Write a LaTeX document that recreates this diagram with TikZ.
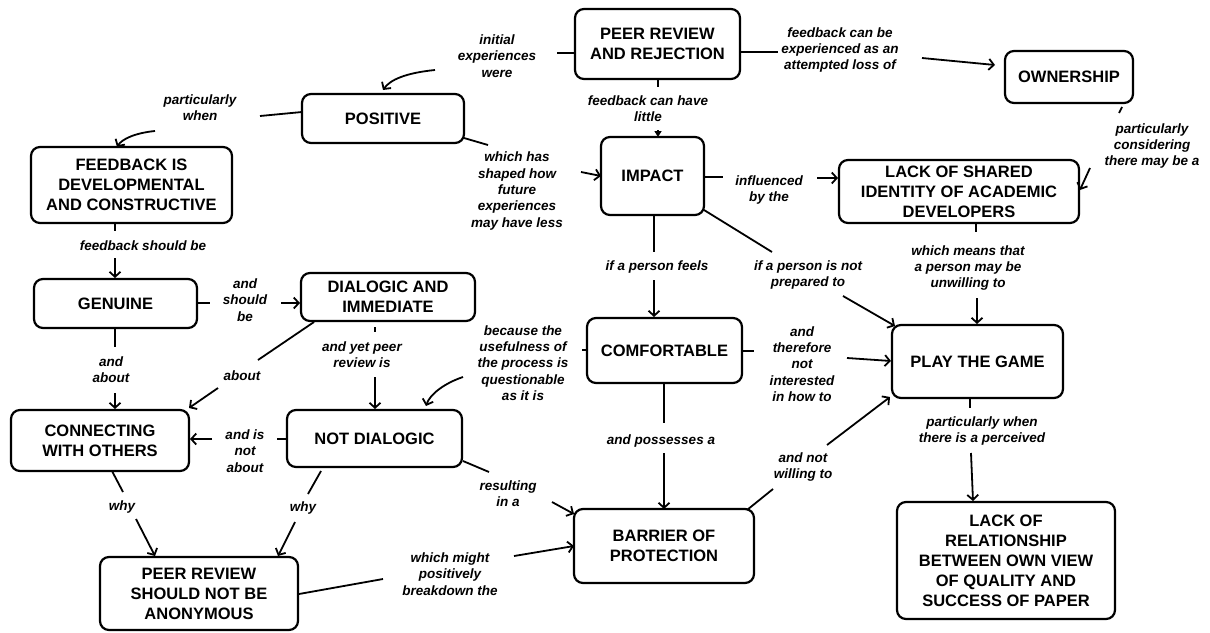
\documentclass[tikz,border=0pt]{standalone}
\usepackage{fontspec}
\setmainfont{Liberation Sans}
\usetikzlibrary{arrows.meta,calc}
\tikzset{
 concept/.style={draw, line width=2.2pt, rounded corners=9pt, align=center, inner sep=2pt,
   font=\bfseries\fontsize{16.5}{20}\selectfont},
 linkph/.style={align=center, inner sep=0pt, font=\bfseries\itshape\fontsize{13.5}{16.3}\selectfont},
 conn/.style={line width=1.8pt},
 arr/.style={conn, -{Straight Barb[length=5pt,width=11pt]}},
 tri/.style={conn, -{Triangle[length=6pt,width=7pt]}},
}
\begin{document}
\begin{tikzpicture}[x=1pt,y=-1pt]
\useasboundingbox (0,0) rectangle (1210,632);
% concepts
\node[concept, minimum width=165, minimum height=70] (pr) at (657.5,44) {PEER REVIEW\\AND REJECTION};
\node[concept, minimum width=128, minimum height=52] (own) at (1069,77) {OWNERSHIP};
\node[concept, minimum width=162, minimum height=49] (pos) at (383,118.5) {POSITIVE};
\node[concept, minimum width=201, minimum height=76] (fdc) at (131.5,185) {FEEDBACK IS\\DEVELOPMENTAL\\AND CONSTRUCTIVE};
\node[concept, minimum width=103, minimum height=78] (imp) at (652.5,176) {IMPACT};
\node[concept, minimum width=240, minimum height=63] (lsi) at (959,191.5) {LACK OF SHARED\\IDENTITY OF ACADEMIC\\DEVELOPERS};
\node[concept, minimum width=163, minimum height=49] (gen) at (115.5,303.5) {GENUINE};
\node[concept, minimum width=174, minimum height=48] (dia) at (388,297) {DIALOGIC AND\\IMMEDIATE};
\node[concept, minimum width=155, minimum height=65] (com) at (664.5,350.5) {COMFORTABLE};
\node[concept, minimum width=171, minimum height=73] (ptg) at (977.5,361.5) {PLAY THE GAME};
\node[concept, minimum width=178, minimum height=61] (cwo) at (100,440.5) {CONNECTING\\WITH OTHERS};
\node[concept, minimum width=175, minimum height=57] (nd) at (374.5,438.5) {NOT DIALOGIC};
\node[concept, minimum width=198, minimum height=73] (anon) at (199,593.5) {PEER REVIEW\\SHOULD NOT BE\\ANONYMOUS};
\node[concept, minimum width=180, minimum height=74] (bar) at (664,546) {BARRIER OF\\PROTECTION};
\node[concept, minimum width=218, minimum height=117] (lor) at (1006,560.5) {LACK OF\\RELATIONSHIP\\BETWEEN OWN VIEW\\OF QUALITY AND\\SUCCESS OF PAPER};
% linking phrases
\node[linkph] (lInit) at (497,56) {initial\\experiences\\were};
\node[linkph] (lOwn) at (840,50) {feedback can be\\experienced as an\\attempted loss of};
\node[linkph] (lLittle) at (648,109) {feedback can have\\little};
\node[linkph] (lPw) at (200,108) {particularly\\when};
\node[linkph] (lShaped) at (517,191) {which has\\shaped how\\future\\experiences\\may have less};
\node[linkph] (lInfl) at (769,190) {influenced\\by the};
\node[linkph] (lConsid) at (1152,146) {particularly\\considering\\there may be a};
\node[linkph] (lFsb) at (143,246) {feedback should be};
\node[linkph] (lAsb) at (245,300) {and\\should\\be};
\node[linkph] (lYet) at (362,355) {and yet peer\\review is};
\node[linkph] (lAbout) at (242,376) {about};
\node[linkph] (lAndabout) at (111,370) {and\\about};
\node[linkph] (lBecause) at (523,363) {because the\\usefulness of\\the process is\\questionable\\as it is};
\node[linkph] (lFeels) at (657,267) {if a person feels};
\node[linkph] (lNotprep) at (808,275) {if a person is not\\prepared to};
\node[linkph] (lMeans) at (968,268) {which means that\\a person may be\\unwilling to};
\node[linkph] (lTherefore) at (802,364) {and\\therefore\\not\\interested\\in how to};
\node[linkph] (lNotwill) at (803,467) {and not\\willing to};
\node[linkph] (lPerceived) at (982,431) {particularly when\\there is a perceived};
\node[linkph] (lIsnot) at (245,451) {and is\\not\\about};
\node[linkph] (lWhy1) at (122,507) {why};
\node[linkph] (lWhy2) at (303,508) {why};
\node[linkph] (lResult) at (508,494) {resulting\\in a};
\node[linkph] (lBreak) at (450,574) {which might\\positively\\breakdown the};
\node[linkph] (lPoss) at (661,441) {and possesses a};
% connectors
\draw[conn] ($(pr)+(-82.5,9)$) -- ($(lInit)+(60,-3)$);
\draw[arr] ($(lInit)+(-62,14)$) .. controls (405,73) and (390,80) .. ($(pos)+(0,-28.5)$);
\draw[conn] ($(pr)+(82.5,8)$) -- ($(lOwn)+(-62,2)$);
\draw[arr] ($(lOwn)+(82,8)$) -- ($(own)+(-74,-12)$);
\draw[conn] ($(pr)+(0.5,35)$) -- ($(lLittle)+(10,-22)$);
\draw[tri] ($(lLittle)+(10,21)$) -- ($(imp)+(5.5,-39)$);
\draw[conn] ($(pos)+(-81,-6.5)$) -- ($(lPw)+(60,8)$);
\draw[arr] ($(lPw)+(-45,23)$) .. controls (135,133) and (122,139) .. ($(fdc)+(-14.5,-38)$);
\draw[conn] ($(pos)+(81,19.5)$) -- ($(lShaped)+(-29,-46)$);
\draw[arr] ($(lShaped)+(64,-19)$) -- ($(imp)+(-51.5,0)$);
\draw[conn] ($(imp)+(51.5,1)$) -- ($(lInfl)+(-46,-13)$);
\draw[arr] ($(lInfl)+(48,-12)$) -- ($(lsi)+(-121,-13.5)$);
\draw[conn] ($(own)+(53,30)$) -- ($(lConsid)+(-33,-33)$);
\draw[arr] ($(lConsid)+(-62,22)$) .. controls (1085,178) .. ($(lsi)+(121,-1.5)$);
\draw[conn] ($(fdc)+(-16.5,38)$) -- ($(lFsb)+(-28,-15)$);
\draw[arr] ($(lFsb)+(-28,12)$) -- ($(gen)+(-0.5,-25.5)$);
\draw[conn] ($(gen)+(81.5,-0.5)$) -- ($(lAsb)+(-35,3)$);
\draw[arr] ($(lAsb)+(36,3)$) -- ($(dia)+(-88,6)$);
\draw[conn] ($(dia)+(-13,30)$) -- ($(lYet)+(13,-23)$);
\draw[arr] ($(lYet)+(13,22)$) -- ($(nd)+(0.5,-29.5)$);
\draw[conn] ($(dia)+(-74,25)$) -- ($(lAbout)+(16,-16)$);
\draw[arr] ($(lAbout)+(-24,12)$) -- ($(cwo)+(89,-32.5)$);
\draw[conn] ($(gen)+(-0.5,24.5)$) -- ($(lAndabout)+(4,-23)$);
\draw[arr] ($(lAndabout)+(4,23)$) -- ($(cwo)+(15,-31.5)$);
\draw[conn] ($(com)+(-77.5,-0.5)$) -- ($(lBecause)+(59,-13)$);
\draw[arr] ($(lBecause)+(-60,14)$) .. controls (445,383) and (430,394) .. ($(nd)+(51.5,-32.5)$);
\draw[conn] ($(imp)+(1.5,39)$) -- ($(lFeels)+(-3,-15)$);
\draw[arr] ($(lFeels)+(-3,13)$) -- ($(com)+(-10.5,-33.5)$);
\draw[conn] ($(imp)+(51.5,34)$) -- ($(lNotprep)+(-36,-23)$);
\draw[arr] ($(lNotprep)+(35,21)$) -- ($(ptg)+(-82.5,-35.5)$);
\draw[conn] ($(lsi)+(17,31.5)$) -- ($(lMeans)+(8,-36)$);
\draw[arr] ($(lMeans)+(9,30)$) -- ($(ptg)+(-0.5,-37.5)$);
\draw[conn] ($(com)+(77.5,0.5)$) -- ($(lTherefore)+(-48,-13)$);
\draw[arr] ($(lTherefore)+(45,-6)$) -- ($(ptg)+(-86.5,-0.5)$);
\draw[conn] ($(bar)+(83,-36)$) -- ($(lNotwill)+(-30,22)$);
\draw[arr] ($(lNotwill)+(24,-22)$) -- ($(ptg)+(-87.5,35.5)$);
\draw[conn] ($(ptg)+(-7.5,36.5)$) -- ($(lPerceived)+(-12,-23)$);
\draw[arr] ($(lPerceived)+(-11,22)$) -- ($(lor)+(-33,-59.5)$);
\draw[conn] ($(nd)+(-87.5,0.5)$) -- ($(lIsnot)+(32,-12)$);
\draw[arr] ($(lIsnot)+(-33,-12)$) -- ($(cwo)+(90,-1.5)$);
\draw[conn] ($(cwo)+(12,30.5)$) -- ($(lWhy1)+(1,-15)$);
\draw[arr] ($(lWhy1)+(14,12)$) -- ($(anon)+(-44,-37.5)$);
\draw[conn] ($(nd)+(-53.5,32.5)$) -- ($(lWhy2)+(5,-14)$);
\draw[arr] ($(lWhy2)+(-8,14)$) -- ($(anon)+(79,-37.5)$);
\draw[conn] ($(nd)+(88.5,22.5)$) -- ($(lResult)+(-19,-22)$);
\draw[arr] ($(lResult)+(44,8)$) -- ($(bar)+(-90,-32)$);
\draw[conn] ($(anon)+(100,0.5)$) -- ($(lBreak)+(-67,5)$);
\draw[arr] ($(lBreak)+(64,-18)$) -- ($(bar)+(-90,0)$);
\draw[conn] ($(com)+(-0.5,32.5)$) -- ($(lPoss)+(3,-18)$);
\draw[arr] ($(lPoss)+(3,12)$) -- ($(bar)+(0,-37)$);
\end{tikzpicture}
\end{document}
